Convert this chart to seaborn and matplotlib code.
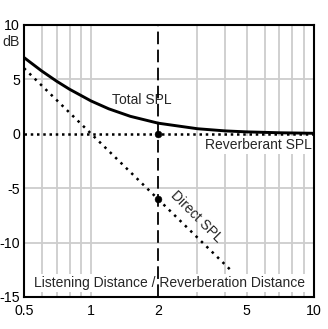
import matplotlib
matplotlib.use("Agg")
import matplotlib.pyplot as plt
import seaborn as sns
from matplotlib.ticker import FixedLocator, NullFormatter, FixedFormatter

# distance ratio (listening distance / reverberation distance) and levels in dB
total_x = [0.5, 0.6, 0.7, 0.8, 1.0, 1.2, 1.5, 2.0, 3.0, 4.0, 5.0, 7.0, 10.0]
total_db = [7.0, 5.77, 4.83, 4.09, 3.01, 2.29, 1.60, 0.97, 0.46, 0.26, 0.17, 0.09, 0.04]

direct_x = [0.5, 1.0, 2.0, 4.3]
direct_db = [6.02, 0.0, -6.02, -12.67]

reverb_x = [0.5, 10.0]
reverb_db = [0.0, 0.0]

marker_x = [2.0, 2.0]
marker_db = [0.0, -6.02]

x_ticks = [0.5, 1, 2, 5, 10]
x_tick_labels = ["0.5", "1", "2", "5", "10"]
y_ticks = [-15, -10, -5, 0, 5, 10]

sns.set_style("white")
plt.rcParams["font.family"] = ["Liberation Sans", "DejaVu Sans"]

fig = plt.figure(figsize=(3.28, 3.29), dpi=100)
ax = fig.add_axes([0.0732, 0.0973, 0.884, 0.827])

ax.set_xscale("log")
ax.set_xlim(0.5, 10)
ax.set_ylim(-15, 10)

# grid
grid_kw = dict(color="#cdcdcd", lw=1.3, zorder=0)
for gx in [0.6, 0.7, 0.8, 0.9, 1, 3, 4, 5, 6, 7, 8, 9]:
    ax.axvline(gx, **grid_kw)
for gy in [-10, -5, 5]:
    ax.axhline(gy, **grid_kw)

# reference distance marker
ax.axvline(2, color="black", lw=1.3, dashes=(7, 3), zorder=4)

sns.lineplot(x=total_x, y=total_db, ax=ax, color="black", lw=2.1, zorder=5)
sns.lineplot(x=direct_x, y=direct_db, ax=ax, color="black", lw=1.8,
             linestyle=(0, (1, 2)), zorder=5)
sns.lineplot(x=reverb_x, y=reverb_db, ax=ax, color="black", lw=1.8,
             linestyle=(0, (1, 1.5)), zorder=5)
sns.scatterplot(x=marker_x, y=marker_db, ax=ax, color="black", s=24,
                edgecolor="black", zorder=6)

box = dict(facecolor="white", edgecolor="none", pad=1.5)
fs = 10.0
ax.text(1.24, 3.1, "Total SPL", fontsize=fs, ha="left", va="center",
        bbox=box, zorder=3)
ax.text(9.75, -1.05, "Reverberant SPL", fontsize=fs, ha="right", va="center",
        bbox=box, zorder=3)
ax.text(2.96, -7.65, "Direct SPL", fontsize=fs, ha="center", va="center",
        rotation=-45, rotation_mode="anchor", zorder=3)
ax.text(2.25, -13.7, "Listening Distance / Reverberation Distance",
        fontsize=fs, ha="center", va="center", bbox=box, zorder=3)

ax.xaxis.set_major_locator(FixedLocator(x_ticks))
ax.xaxis.set_major_formatter(FixedFormatter(x_tick_labels))
ax.xaxis.set_minor_locator(FixedLocator([]))
ax.xaxis.set_minor_formatter(NullFormatter())
ax.set_yticks(y_ticks)
ax.set_yticklabels([str(v) for v in y_ticks])
ax.tick_params(axis="both", length=0, labelsize=10.2, colors="black")
ax.tick_params(axis="x", pad=5)
ax.tick_params(axis="y", pad=3)

fig.text(0.035, 0.872, "dB", fontsize=10.2, ha="center", va="center")

for s in ax.spines.values():
    s.set_color("black")
    s.set_linewidth(1.5)
    s.set_zorder(7)

fig.savefig("out.png", dpi=100)
